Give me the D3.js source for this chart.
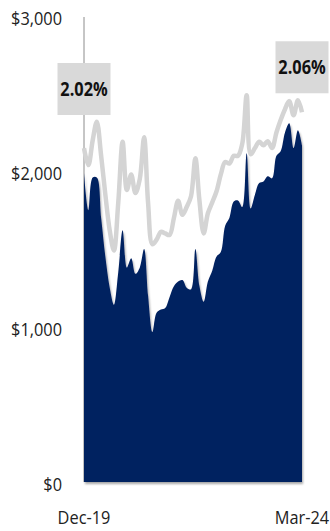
<!DOCTYPE html>
<html>
<head>
<meta charset="utf-8">
<script src="https://cdn.jsdelivr.net/npm/d3@7"></script>
<style>
  html, body { margin: 0; padding: 0; background: #fff; }
  svg { display: block; }
  text { font-family: "Open Sans", "Noto Sans", sans-serif; }
</style>
</head>
<body>
<svg id="chart" width="330" height="531"></svg>
<script>
// ---- data (monthly, Dec-19 .. Mar-24) ----
const startMonth = "2019-12";
const endMonth = "2024-03";
const fundValues = [
  1990, 1750, 1960, 1960, 1700, 1450, 1250, 1140, 1350, 1620,
  1380, 1440, 1340, 1380, 1500, 1200, 965, 1090, 1110, 1120,
  1190, 1260, 1290, 1300, 1250, 1240, 1500, 1265, 1160, 1290,
  1360, 1450, 1480, 1650, 1700, 1806, 1813, 1770, 2116, 1761,
  1850, 1925, 1935, 1968, 1955, 2100, 2129, 2250, 2310, 2150,
  2265, 2168
];
const benchmarkValues = [
  2150, 2040, 2200, 2320, 2100, 1850, 1620, 1490, 1800, 2190,
  1880, 1980, 1860, 1950, 2220, 1800, 1530, 1560, 1610, 1600,
  1590, 1700, 1810, 1720, 1770, 1840, 2084, 1820, 1600, 1730,
  1800, 1870, 1980, 2060, 2050, 2100, 2100, 2180, 2490, 2110,
  2150, 2190, 2168, 2194, 2150, 2250, 2330, 2400, 2452, 2361,
  2458, 2380
];
const yTicks = [0, 1000, 2000, 3000];
const xTickLabels = ["Dec-19", "Mar-24"];
const annotations = [
  { label: "2.02%", month: "2019-12", value: 2530 },
  { label: "2.06%", month: "2024-03", value: 2670 }
];

// ---- build ----
const parse = d3.timeParse("%Y-%m");
const dates = d3.timeMonth.range(parse(startMonth), d3.timeMonth.offset(parse(endMonth), 1));
const rows = dates.map((d, i) => ({ date: d, fund: fundValues[i], bench: benchmarkValues[i] }));

const svg = d3.select("#chart");
const x = d3.scaleTime().domain([parse(startMonth), parse(endMonth)]).range([84, 302]);
const y = d3.scaleLinear().domain([0, 3000]).range([482, 16]);

const defs = svg.append("defs");
const f = defs.append("filter").attr("id", "shadow").attr("x", "-5%").attr("y", "-5%").attr("width", "115%").attr("height", "115%");
f.append("feDropShadow").attr("dx", 1).attr("dy", 2).attr("stdDeviation", 1.2).attr("flood-color", "#000").attr("flood-opacity", 0.35);

// vertical axis line
svg.append("line")
  .attr("x1", x.range()[0]).attr("x2", x.range()[0])
  .attr("y1", y(3000) + 1).attr("y2", y(0))
  .attr("stroke", "#8c8c8c").attr("stroke-width", 1);

// y tick labels
svg.append("g").selectAll("text").data(yTicks).join("text")
  .attr("transform", d => `translate(62,${y(d) + 4}) scale(0.86,1)`)
  .attr("text-anchor", "end")
  .attr("dominant-baseline", "middle")
  .attr("font-size", 19)
  .attr("fill", "#222")
  .text(d => "$" + d3.format(",")(d));

const curve = d3.curveCatmullRom.alpha(0.5);

// benchmark line
const line = d3.line().x(d => x(d.date)).y(d => y(d.bench)).curve(curve);
svg.append("path").datum(rows)
  .attr("d", line)
  .attr("fill", "none")
  .attr("stroke", "#d4d4d4")
  .attr("stroke-width", 4.5)
  .attr("stroke-linejoin", "round");

// fund area
const area = d3.area().x(d => x(d.date)).y0(y(0)).y1(d => y(d.fund)).curve(curve);
svg.append("path").datum(rows)
  .attr("d", area)
  .attr("fill", "#002060")
  .attr("filter", "url(#shadow)");

// x tick labels
const xTickDates = [parse(startMonth), parse(endMonth)];
svg.append("g").selectAll("text").data(xTickDates).join("text")
  .attr("transform", d => `translate(${x(d)},${524}) scale(0.86,1)`)
  .attr("text-anchor", "middle")
  .attr("font-size", 19)
  .attr("fill", "#222")
  .text((d, i) => xTickLabels[i]);

// annotation boxes
const ann = svg.append("g").selectAll("g").data(annotations).join("g")
  .attr("transform", d => `translate(${x(parse(d.month))},${y(d.value)})`);
ann.append("rect")
  .attr("x", -26.5).attr("y", -26).attr("width", 53).attr("height", 52)
  .attr("fill", "#d9d9d9");
ann.append("text")
  .attr("transform", "translate(0,7) scale(0.86,1)")
  .attr("text-anchor", "middle")
  .attr("font-size", 19)
  .attr("font-weight", "bold")
  .attr("fill", "#111")
  .text(d => d.label);
</script>
</body>
</html>
